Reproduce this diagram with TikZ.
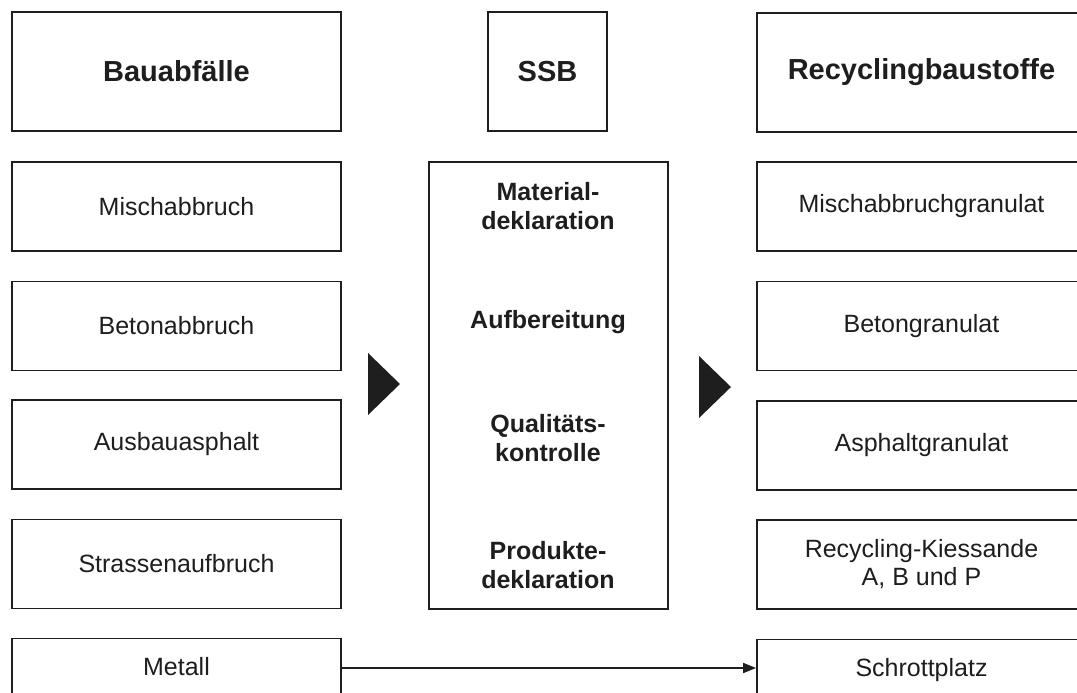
\documentclass[tikz,border=0pt]{standalone}
\usepackage{fontspec}
\setmainfont{Liberation Sans}
\usetikzlibrary{arrows.meta}
\definecolor{ink}{HTML}{1E1E1E}
\tikzset{
  box/.style={draw=ink, line width=0.9pt, fill=white, inner sep=0pt, minimum width=164.5pt, minimum height=44.5pt, align=center, text=ink, font=\fontsize{12.5}{14}\selectfont},
  cutbox/.style={box, text height=9pt, text depth=17pt},
  headbox/.style={box, minimum height=59.5pt, font=\fontsize{14.5}{17}\selectfont\bfseries},
  ssbbox/.style={headbox, minimum width=59.5pt},
  bigbox/.style={draw=ink, line width=1.4pt, inner sep=0pt, minimum width=119.5pt, minimum height=223.5pt},
  step-text/.style={align=center, text=ink, font=\fontsize{12.5}{14.5}\selectfont\bfseries},
  bigarrow/.style={fill=ink, draw=none},
  link/.style={draw=ink, line width=0.8pt, -{Triangle[length=6.5pt,width=5pt]}}
}
\begin{document}
\begin{tikzpicture}[x=0.5pt,y=-0.5pt]
\useasboundingbox (0,0) rectangle (1077,692);
\clip (0,0) rectangle (1077,692);
% left column
\node[headbox] (bau) at (176.5,71.5) {Bauabfälle};
\node[box] (misch) at (176.5,206.5) {Mischabbruch};
\node[box] (beton) at (176.5,326) {Betonabbruch};
\node[box] (asph) at (176.5,444.5) {Ausbauasphalt};
\node[box] (strasse) at (176.5,564) {Strassenaufbruch};
\node[cutbox] (metall) at (176.5,683) {Metall};
% middle
\node[ssbbox] (ssb) at (547.5,71.5) {SSB};
\node[bigbox] (proc) at (548.5,385.5) {};
\node[step-text] (mat) at (548,206) {Material-\\deklaration};
\node[step-text] (auf) at (548,322) {Aufbereitung};
\node[step-text] (qual) at (548,438) {Qualitäts-\\kontrolle};
\node[step-text] (prod) at (548,565) {Produkte-\\deklaration};
% right column
\node[headbox] (rec) at (921.5,72.5) {Recyclingbaustoffe};
\node[box] (mgran) at (921.5,206.5) {Mischabbruchgranulat};
\node[box] (bgran) at (921.5,326) {Betongranulat};
\node[box] (agran) at (921.5,445.5) {Asphaltgranulat};
\node[box] (kies) at (921.5,564.5) {Recycling-Kiessande\\A, B und P};
\node[cutbox] (schrott) at (921.5,684) {Schrottplatz};
% big arrowheads
\fill[bigarrow] (368,353) -- (400,384) -- (368,415) -- cycle;
\fill[bigarrow] (699,356) -- (731,387) -- (699,418) -- cycle;
% connector
\coordinate (mout) at (metall.east |- 0,668);
\coordinate (sin) at (schrott.west |- 0,668);
\draw[link] (mout) -- (sin);
\end{tikzpicture}
\end{document}
